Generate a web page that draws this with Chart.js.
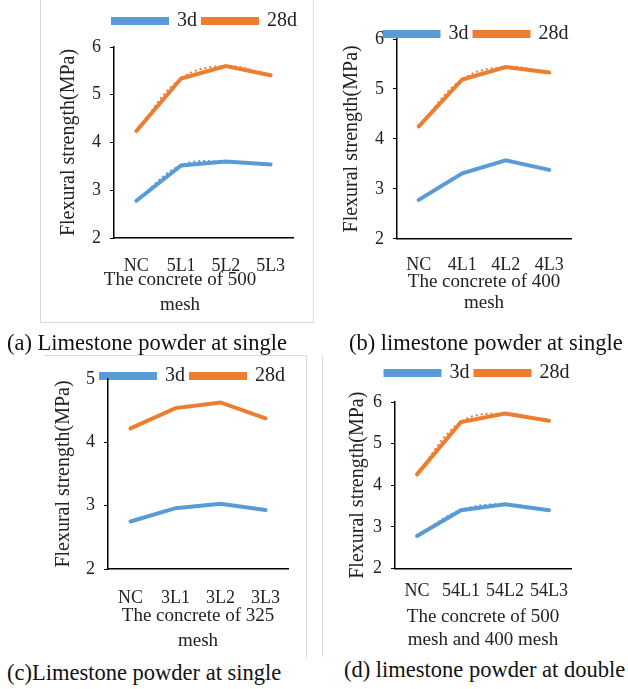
<!DOCTYPE html>
<html>
<head>
<meta charset="utf-8">
<script src="https://cdn.jsdelivr.net/npm/chart.js@4.4.0/dist/chart.umd.min.js"></script>
<style>
  body { margin: 0; background: #fff; }
  #page { position: relative; width: 628px; height: 689px; background: #fff; overflow: hidden; }
  .box { position: absolute; }
  .frame { position: absolute; border: 0 solid #d9d9d9; }
  .cap { position: absolute; font-family: "Liberation Serif", serif; font-size: 22.5px; line-height: 24px; color: #111; white-space: nowrap; }
</style>
</head>
<body>
<div id="page">
  <div class="frame" style="left:40px; top:-2px; width:272px; height:324px; border-width:0 1px 1px 1px; border-right-color:#d3e6d0;"></div>
  <div class="frame" style="left:45px; top:355px; width:261px; height:302px; border-width:1px 1px 0 0;"></div>
  <div class="frame" style="left:322px; top:355px; width:0; height:302px; border-width:0 0 0 1px;"></div>

  <div class="box" style="left:41px; top:0px; width:272px; height:322px;"><canvas id="chartA"></canvas></div>
  <div class="box" style="left:330px; top:0px; width:275px; height:322px;"><canvas id="chartB"></canvas></div>
  <div class="box" style="left:46px; top:340px; width:262px; height:316px;"><canvas id="chartC"></canvas></div>
  <div class="box" style="left:324px; top:340px; width:290px; height:316px;"><canvas id="chartD"></canvas></div>

  <div class="cap" style="left:7px; top:331px;">(a) Limestone powder at single</div>
  <div class="cap" style="left:349px; top:331px;">(b) limestone powder at single</div>
  <div class="cap" style="left:7px; top:661px;">(c)Limestone powder at single</div>
  <div class="cap" style="left:344px; top:658px;">(d) limestone powder at double</div>
</div>
<script>
// flexural strength (MPa), 3d and 28d
const labelsA = ['NC', '5L1', '5L2', '5L3'];
const a3d = [2.78, 3.52, 3.60, 3.54];
const a28d = [4.24, 5.34, 5.60, 5.41];

const labelsB = ['NC', '4L1', '4L2', '4L3'];
const b3d = [2.78, 3.31, 3.57, 3.38];
const b28d = [4.25, 5.19, 5.44, 5.33];

const labelsC = ['NC', '3L1', '3L2', '3L3'];
const c3d = [2.75, 2.96, 3.03, 2.93];
const c28d = [4.22, 4.54, 4.63, 4.38];

const labelsD = ['NC', '54L1', '54L2', '54L3'];
const d3d = [2.78, 3.40, 3.54, 3.40];
const d28d = [4.26, 5.52, 5.72, 5.55];

const blue = '#5b9bd5';
const orange = '#ed7d31';
const serif = '"Liberation Serif", "Times New Roman", serif';

// moves legend / bottom title after layout so they sit like in the figure
const nudge = {
  id: 'nudge',
  afterLayout(chart, args, opts) {
    const lg = chart.legend;
    if (lg) {
      lg.top += opts.dy || 0;
      lg.bottom += opts.dy || 0;
      lg.left += opts.dx || 0;
      lg.right += opts.dx || 0;
    }
    const tb = chart.titleBlock;
    if (tb) {
      const ca = chart.chartArea;
      const cx = (ca.left + ca.right) / 2 + (opts.tdx || 0);
      const w = tb.right - tb.left;
      tb.left = cx - w / 2;
      tb.right = cx + w / 2;
    }
  }
};

function lineSet(label, data, color) {
  return {
    label: label,
    data: data,
    borderColor: color,
    backgroundColor: color,
    borderWidth: 4,
    borderCapStyle: 'round',
    pointRadius: 0,
    tension: 0
  };
}

// dotted trend overlay (smoothed)
function trendSet(data, color) {
  return {
    label: '',
    data: data,
    borderColor: color,
    borderWidth: 2,
    borderDash: [2, 3],
    pointRadius: 0,
    tension: 0.4
  };
}

function makeChart(id, labels, s3d, s28d, ymax, xtitle, trends, lay) {
  const sets = [lineSet('3d', s3d, blue), lineSet('28d', s28d, orange)];
  if (trends[0]) sets.push(trendSet(s3d, blue));
  if (trends[1]) sets.push(trendSet(s28d, orange));
  return new Chart(document.getElementById(id), {
    type: 'line',
    data: { labels: labels, datasets: sets },
    plugins: [nudge],
    options: {
      responsive: true,
      maintainAspectRatio: false,
      animation: false,
      layout: { padding: { left: 0, right: lay.right, top: lay.top, bottom: 0 } },
      plugins: {
        tooltip: { enabled: false },
        nudge: { dx: lay.dx, dy: lay.dy, tdx: lay.tdx },
        title: {
          display: true,
          position: 'bottom',
          text: xtitle,
          color: '#222',
          padding: { top: -10, bottom: lay.tpb },
          font: { family: serif, size: 19, weight: 'normal', lineHeight: lay.tlh / 19 }
        },
        legend: {
          position: 'top',
          labels: {
            boxWidth: 54,
            boxHeight: 4,
            color: '#222',
            padding: 6,
            font: { family: serif, size: 20 },
            filter: item => item.text !== ''
          }
        }
      },
      scales: {
        x: {
          offset: true,
          afterFit: s => { s.height = lay.xh + 10; },
          grid: { display: false, drawTicks: false },
          border: { color: '#000', width: 1.5 },
          ticks: { color: '#222', autoSkip: false, maxRotation: 0, padding: lay.xtp, font: { family: serif, size: 18 } }
        },
        y: {
          min: 2,
          max: ymax,
          afterFit: s => { s.width = lay.yw; },
          ticks: { stepSize: 1, color: '#222', padding: 9, font: { family: serif, size: 18 } },
          grid: { drawOnChartArea: false, drawTicks: true, tickLength: 4, color: '#000' },
          border: { color: '#000', width: 1.5 },
          title: { display: true, text: 'Flexural strength(MPa)', color: '#222', padding: { top: lay.ytp, bottom: 0 }, font: { family: serif, size: 20 } }
        }
      }
    }
  });
}

makeChart('chartA', labelsA, a3d, a28d, 6, ['The concrete of 500', 'mesh'], [true, true],
  { right: 20, top: 11, xh: 29.5, tlh: 25, tpb: 4.5, tdx: -23.5, yw: 73, xtp: 17, ytp: 16, dx: 38, dy: -6 });
makeChart('chartB', labelsB, b3d, b28d, 6, ['The concrete of 400', 'mesh'], [false, true],
  { right: 34, top: 3, xh: 32, tlh: 21.6, tpb: 8, tdx: 0, yw: 67, xtp: 16, ytp: 10, dx: 26, dy: 15 });
makeChart('chartC', labelsC, c3d, c28d, 5, ['The concrete of 325', 'mesh'], [false, false],
  { right: 20, top: 3, xh: 35, tlh: 25, tpb: 2, tdx: 0, yw: 62, xtp: 18, ytp: 6, dx: 26, dy: 17 });
makeChart('chartD', labelsD, d3d, d28d, 6, ['The concrete of 500', 'mesh and 400 mesh'], [true, true],
  { right: 43, top: 26, xh: 37, tlh: 23.3, tpb: 4, tdx: 0, yw: 71, xtp: 12, ytp: 22, dx: 30, dy: -9 });
</script>
</body>
</html>
